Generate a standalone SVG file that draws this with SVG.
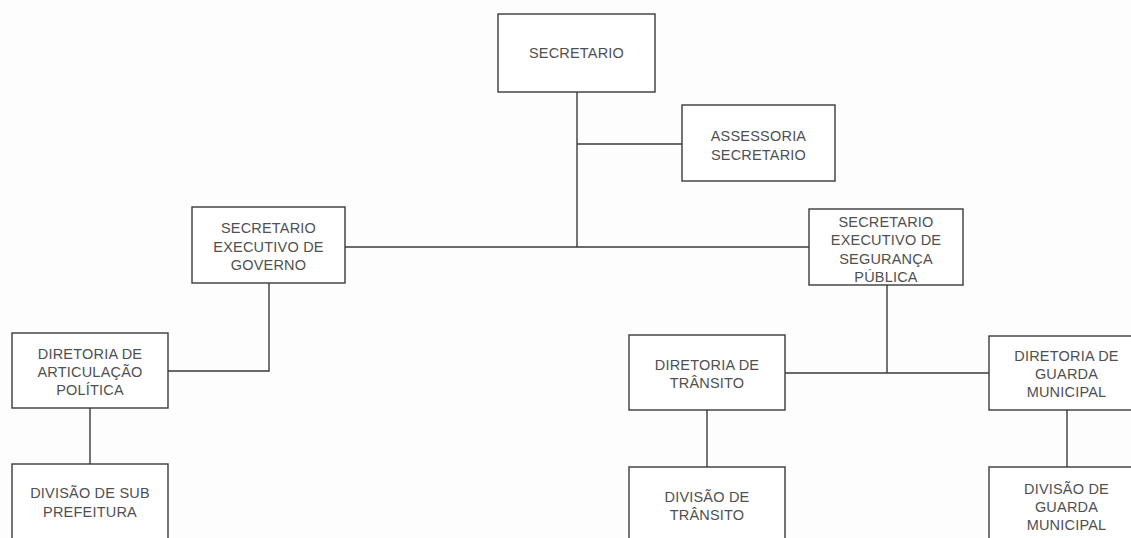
<svg xmlns="http://www.w3.org/2000/svg" width="1131" height="538" viewBox="0 0 1131 538">
  <style>
    .box { fill: #ffffff; stroke: #3a3a3a; stroke-width: 1.4; }
    .lbl { font-family: "Liberation Sans", Arial, sans-serif; font-size: 14.5px; fill: #505050; text-anchor: middle; dominant-baseline: central; letter-spacing: 0.2px; }
    .conn { fill: none; stroke: #3a3a3a; stroke-width: 1.4; }
  </style>
  <rect width="1131" height="538" fill="#fdfdfd"/>
  <g id="connectors">
    <path class="conn" d="M577,92 V247"/>
    <path class="conn" d="M577,144 H682"/>
    <path class="conn" d="M345,247 H809"/>
    <path class="conn" d="M269,283 V371 H168"/>
    <path class="conn" d="M90,408 V464"/>
    <path class="conn" d="M887,285 V373"/>
    <path class="conn" d="M785,373 H989"/>
    <path class="conn" d="M707,410 V467"/>
    <path class="conn" d="M1067,410 V467"/>
  </g>
  <g id="secretario">
    <rect class="box" x="498" y="14" width="157" height="78"/>
    <text class="lbl" x="576.5" y="53">SECRETARIO</text>
  </g>
  <g id="assessoria">
    <rect class="box" x="682" y="105" width="153" height="76"/>
    <text class="lbl" x="758.5" y="136">ASSESSORIA</text>
    <text class="lbl" x="758.5" y="155">SECRETARIO</text>
  </g>
  <g id="sec-exec-governo">
    <rect class="box" x="192" y="207" width="153" height="76"/>
    <text class="lbl" x="268.5" y="228">SECRETARIO</text>
    <text class="lbl" x="268.5" y="247">EXECUTIVO DE</text>
    <text class="lbl" x="268.5" y="265">GOVERNO</text>
  </g>
  <g id="sec-exec-seguranca">
    <rect class="box" x="809" y="209" width="154" height="76"/>
    <text class="lbl" x="886" y="221.5">SECRETARIO</text>
    <text class="lbl" x="886" y="240">EXECUTIVO DE</text>
    <text class="lbl" x="886" y="258.5">SEGURANÇA</text>
    <text class="lbl" x="886" y="276.5">PÚBLICA</text>
  </g>
  <g id="dir-articulacao">
    <rect class="box" x="12" y="333" width="156" height="75"/>
    <text class="lbl" x="90" y="354">DIRETORIA DE</text>
    <text class="lbl" x="90" y="372">ARTICULAÇÃO</text>
    <text class="lbl" x="90" y="389.5">POLÍTICA</text>
  </g>
  <g id="div-subprefeitura">
    <rect class="box" x="12" y="464" width="156" height="80"/>
    <text class="lbl" x="90" y="493">DIVISÃO DE SUB</text>
    <text class="lbl" x="90" y="511.5">PREFEITURA</text>
  </g>
  <g id="dir-transito">
    <rect class="box" x="629" y="335" width="156" height="75"/>
    <text class="lbl" x="707" y="365">DIRETORIA DE</text>
    <text class="lbl" x="707" y="383">TRÂNSITO</text>
  </g>
  <g id="div-transito">
    <rect class="box" x="629" y="467" width="156" height="80"/>
    <text class="lbl" x="707" y="497">DIVISÃO DE</text>
    <text class="lbl" x="707" y="515">TRÂNSITO</text>
  </g>
  <g id="dir-guarda">
    <rect class="box" x="989" y="336" width="156" height="74"/>
    <text class="lbl" x="1066.5" y="356">DIRETORIA DE</text>
    <text class="lbl" x="1066.5" y="374">GUARDA</text>
    <text class="lbl" x="1066.5" y="392">MUNICIPAL</text>
  </g>
  <g id="div-guarda">
    <rect class="box" x="989" y="467" width="156" height="80"/>
    <text class="lbl" x="1066.5" y="489">DIVISÃO DE</text>
    <text class="lbl" x="1066.5" y="507">GUARDA</text>
    <text class="lbl" x="1066.5" y="524.5">MUNICIPAL</text>
  </g>
</svg>
